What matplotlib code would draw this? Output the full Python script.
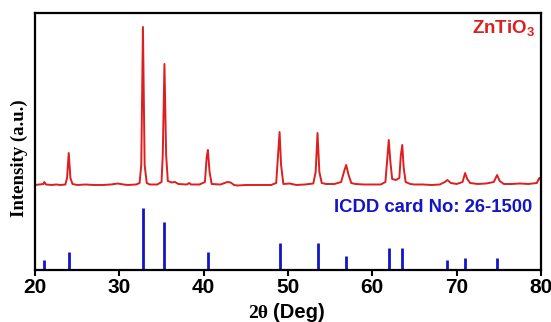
import matplotlib
matplotlib.use("Agg")
import matplotlib.pyplot as plt

# Measured XRD trace (2theta in deg, intensity a.u.)
red_x = [20.0, 20.5, 21.0, 21.1, 21.3, 22.0, 22.5, 23.0, 23.6, 23.8, 24.0, 24.2, 24.45,
         25.0, 26.0, 27.0, 28.0, 29.0, 29.8, 30.5, 31.0, 32.0, 32.4, 32.6, 32.8, 33.0, 33.25,
         33.6, 34.5, 35.0, 35.15, 35.35, 35.55, 35.75, 36.2, 36.6, 37.0, 38.0, 38.3, 38.5, 39.5,
         40.15, 40.35, 40.5, 40.7, 40.95, 42.0, 42.8, 43.2, 43.6, 44.0, 45.0, 46.0, 47.0, 48.0,
         48.6, 48.82, 49.0, 49.18, 49.45, 50.2, 51.0, 52.0, 53.0, 53.28, 53.5, 53.72, 54.0, 54.5,
         55.5, 56.3, 56.7, 56.9, 57.15, 57.5, 58.0, 59.0, 60.0, 61.0, 61.55, 61.78, 61.95, 62.12,
         62.35, 62.8, 63.2, 63.38, 63.55, 63.72, 63.95, 64.5, 65.0, 66.0, 67.0, 68.0, 68.6, 68.9,
         69.3, 70.0, 70.7, 71.0, 71.25, 71.6, 72.5, 73.5, 74.4, 74.8, 75.1, 75.6, 76.5, 77.5,
         78.5, 79.5, 79.8, 80.0]
red_y = [85, 85.5, 86, 88, 85.5, 85, 85.5, 85, 85.5, 92, 117, 92, 86,
         85, 85.5, 85, 85, 85.5, 86.5, 85.5, 85, 85.5, 87, 105, 243, 105, 87,
         85.5, 85.5, 88, 115, 206, 115, 89, 87.5, 88, 86, 85.5, 87, 85.5, 85.5,
         88, 112, 120, 98, 86, 85.5, 88, 87.5, 85, 84.5, 85, 85, 85, 85,
         87, 115, 138, 105, 86, 86.5, 85, 85.5, 86.5, 98, 137, 98, 87, 86,
         86, 88, 100, 105, 96, 87, 86, 85.5, 85.5, 85.5, 88, 112, 130, 110,
         91, 90, 92, 115, 125, 102, 88, 86, 85.5, 85.5, 85, 85.5, 88, 90,
         87, 86, 88, 97, 91, 87, 86, 86.5, 88, 95, 89, 86, 86, 86.5,
         86, 87, 92, 90]

# ICDD card 26-1500 reference lines
ref_pos = [21.1, 24.0, 32.8, 35.35, 40.5, 49.0, 53.5, 56.9, 61.95, 63.5, 68.8, 71.0, 74.8]
ref_int = [10, 18, 62, 48, 18, 27, 27, 14, 22, 22, 10, 12, 12]

red = '#dc1f1f'
blue = '#1414c8'

plt.rcParams['mathtext.fontset'] = 'custom'
plt.rcParams['mathtext.bf'] = 'Liberation Sans:bold'
plt.rcParams['mathtext.rm'] = 'Liberation Sans:bold'

fig = plt.figure(figsize=(5.51, 3.22), dpi=100)
ax = fig.add_axes([35/551, 52/322, 506/551, 257/322])

ax.plot(red_x, red_y, color=red, lw=1.4)
ax.vlines(ref_pos, 0, ref_int, color=blue, lw=2.0)

ax.set_xlim(20, 80)
ax.set_ylim(0, 257)
ax.set_yticks([])
ax.set_xticks([20, 30, 40, 50, 60, 70, 80])
ax.tick_params(axis='x', direction='out', length=4, width=1.5, pad=2)
for lab in ax.get_xticklabels():
    lab.set_fontfamily('Liberation Sans')
    lab.set_fontweight('bold')
    lab.set_fontsize(15)
for s in ax.spines.values():
    s.set_linewidth(1.6)

fig.text(19/551, 1 - 158/322, 'Intensity (a.u.)', rotation=90, fontfamily='Liberation Serif',
         fontweight='bold', fontsize=13.5, ha='center', va='center')

fig.text(268/551, 1 - 313/322, '2\u03b8', fontfamily='Liberation Serif', fontweight='bold',
         fontsize=14, ha='right', va='center')
fig.text(273/551, 1 - 313/322, '(Deg)', fontfamily='Liberation Sans', fontweight='bold',
         fontsize=14.5, ha='left', va='center')

ax.text(0.988, 0.94, r'ZnTiO$_\mathbf{3}$', transform=ax.transAxes, ha='right', va='center',
        color=red, fontfamily='Liberation Sans', fontweight='bold', fontsize=13.5)
ax.text(0.983, 0.242, 'ICDD card No: 26-1500', transform=ax.transAxes, ha='right', va='center',
        color=blue, fontfamily='Liberation Sans', fontweight='bold', fontsize=13.3)

fig.savefig('out.png', dpi=100)
